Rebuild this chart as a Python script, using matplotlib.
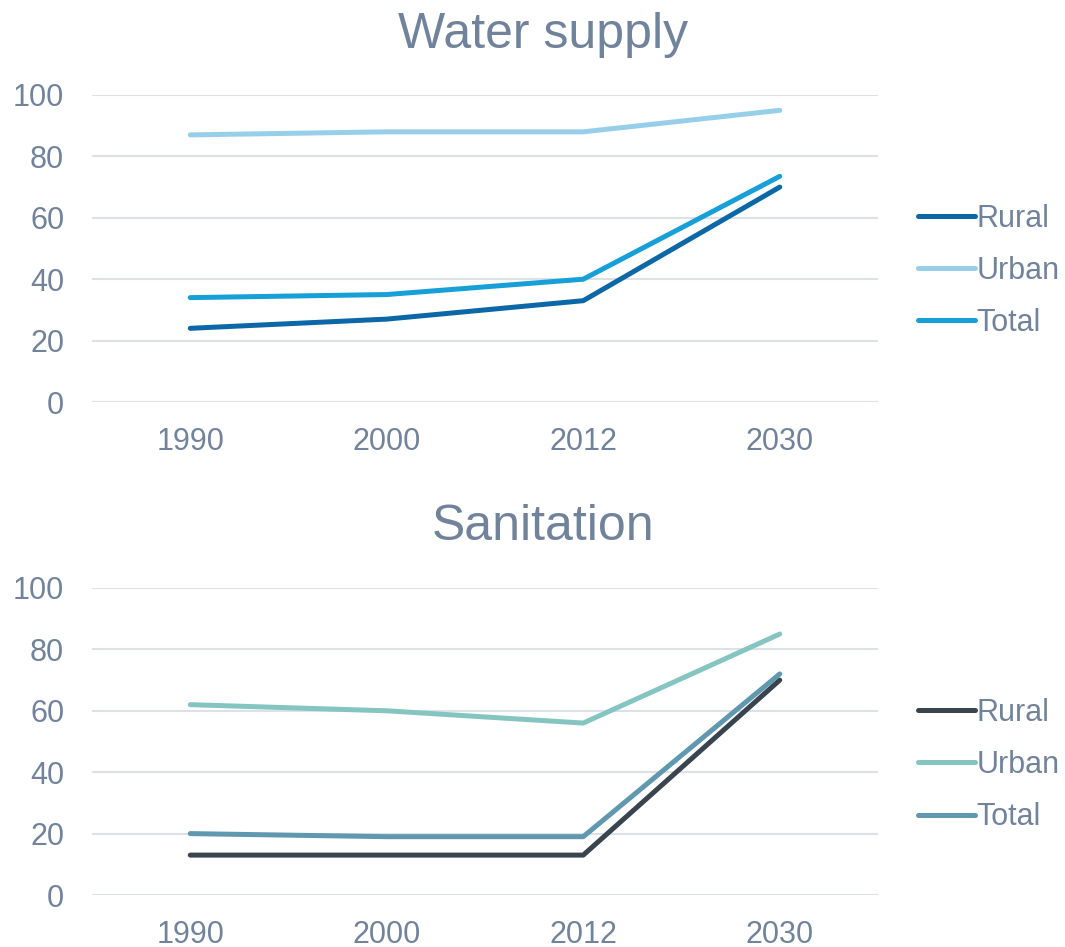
import matplotlib.pyplot as plt

plt.rcParams['font.family'] = ['Liberation Sans', 'DejaVu Sans']

years = ["1990", "2000", "2012", "2030"]
series = ["Rural", "Urban", "Total"]

water_rural = [24, 27, 33, 70]
water_urban = [87, 88, 88, 95]
water_total = [34, 35, 40, 73.5]

san_rural = [13, 13, 13, 70]
san_urban = [62, 60, 56, 85]
san_total = [20, 19, 19, 72]

water_colors = ["#0B67A5", "#97CFEA", "#16A0D7"]
san_colors = ["#39444F", "#84C5C1", "#6098AF"]

text_col = "#71839A"
grid_col = "#DCE1E6"

fig = plt.figure(figsize=(10.65, 9.47), dpi=100)

panels = [
    ("Water supply", [water_rural, water_urban, water_total], water_colors,
     [0.0864, 0.5755, 0.738, 0.3242], 0.963, 0.714),
    ("Sanitation", [san_rural, san_urban, san_total], san_colors,
     [0.0864, 0.0549, 0.738, 0.3242], 0.443, 0.192),
]

for title, data, colors, rect, ty, ly in panels:
    ax = fig.add_axes(rect)
    x = range(len(years))
    for vals, name, c in zip(data, series, colors):
        ax.plot(x, vals, color=c, lw=3.6, solid_capstyle='round',
                solid_joinstyle='round', label=name)
    ax.set_xlim(-0.5, len(years) - 0.5)
    ax.set_ylim(0, 100)
    ax.set_yticks([0, 20, 40, 60, 80, 100])
    ax.set_xticks(list(x))
    ax.set_xticklabels(years)
    ax.grid(axis='y', color=grid_col, lw=1.5)
    ax.set_axisbelow(True)
    for s in ax.spines.values():
        s.set_visible(False)
    ax.tick_params(length=0, labelsize=22, labelcolor=text_col)
    ax.tick_params(axis='x', pad=18)
    ax.tick_params(axis='y', pad=20)
    fig.text(0.51, ty, title, ha='center', va='center', fontsize=36, color=text_col)
    leg = ax.legend(loc='center left', bbox_to_anchor=(0.862, ly),
                    bbox_transform=fig.transFigure, frameon=False,
                    fontsize=22, handlelength=1.86, handletextpad=0.06,
                    labelspacing=0.73, borderaxespad=0, borderpad=0)
    for t in leg.get_texts():
        t.set_color(text_col)

fig.savefig("out.png", dpi=100)
